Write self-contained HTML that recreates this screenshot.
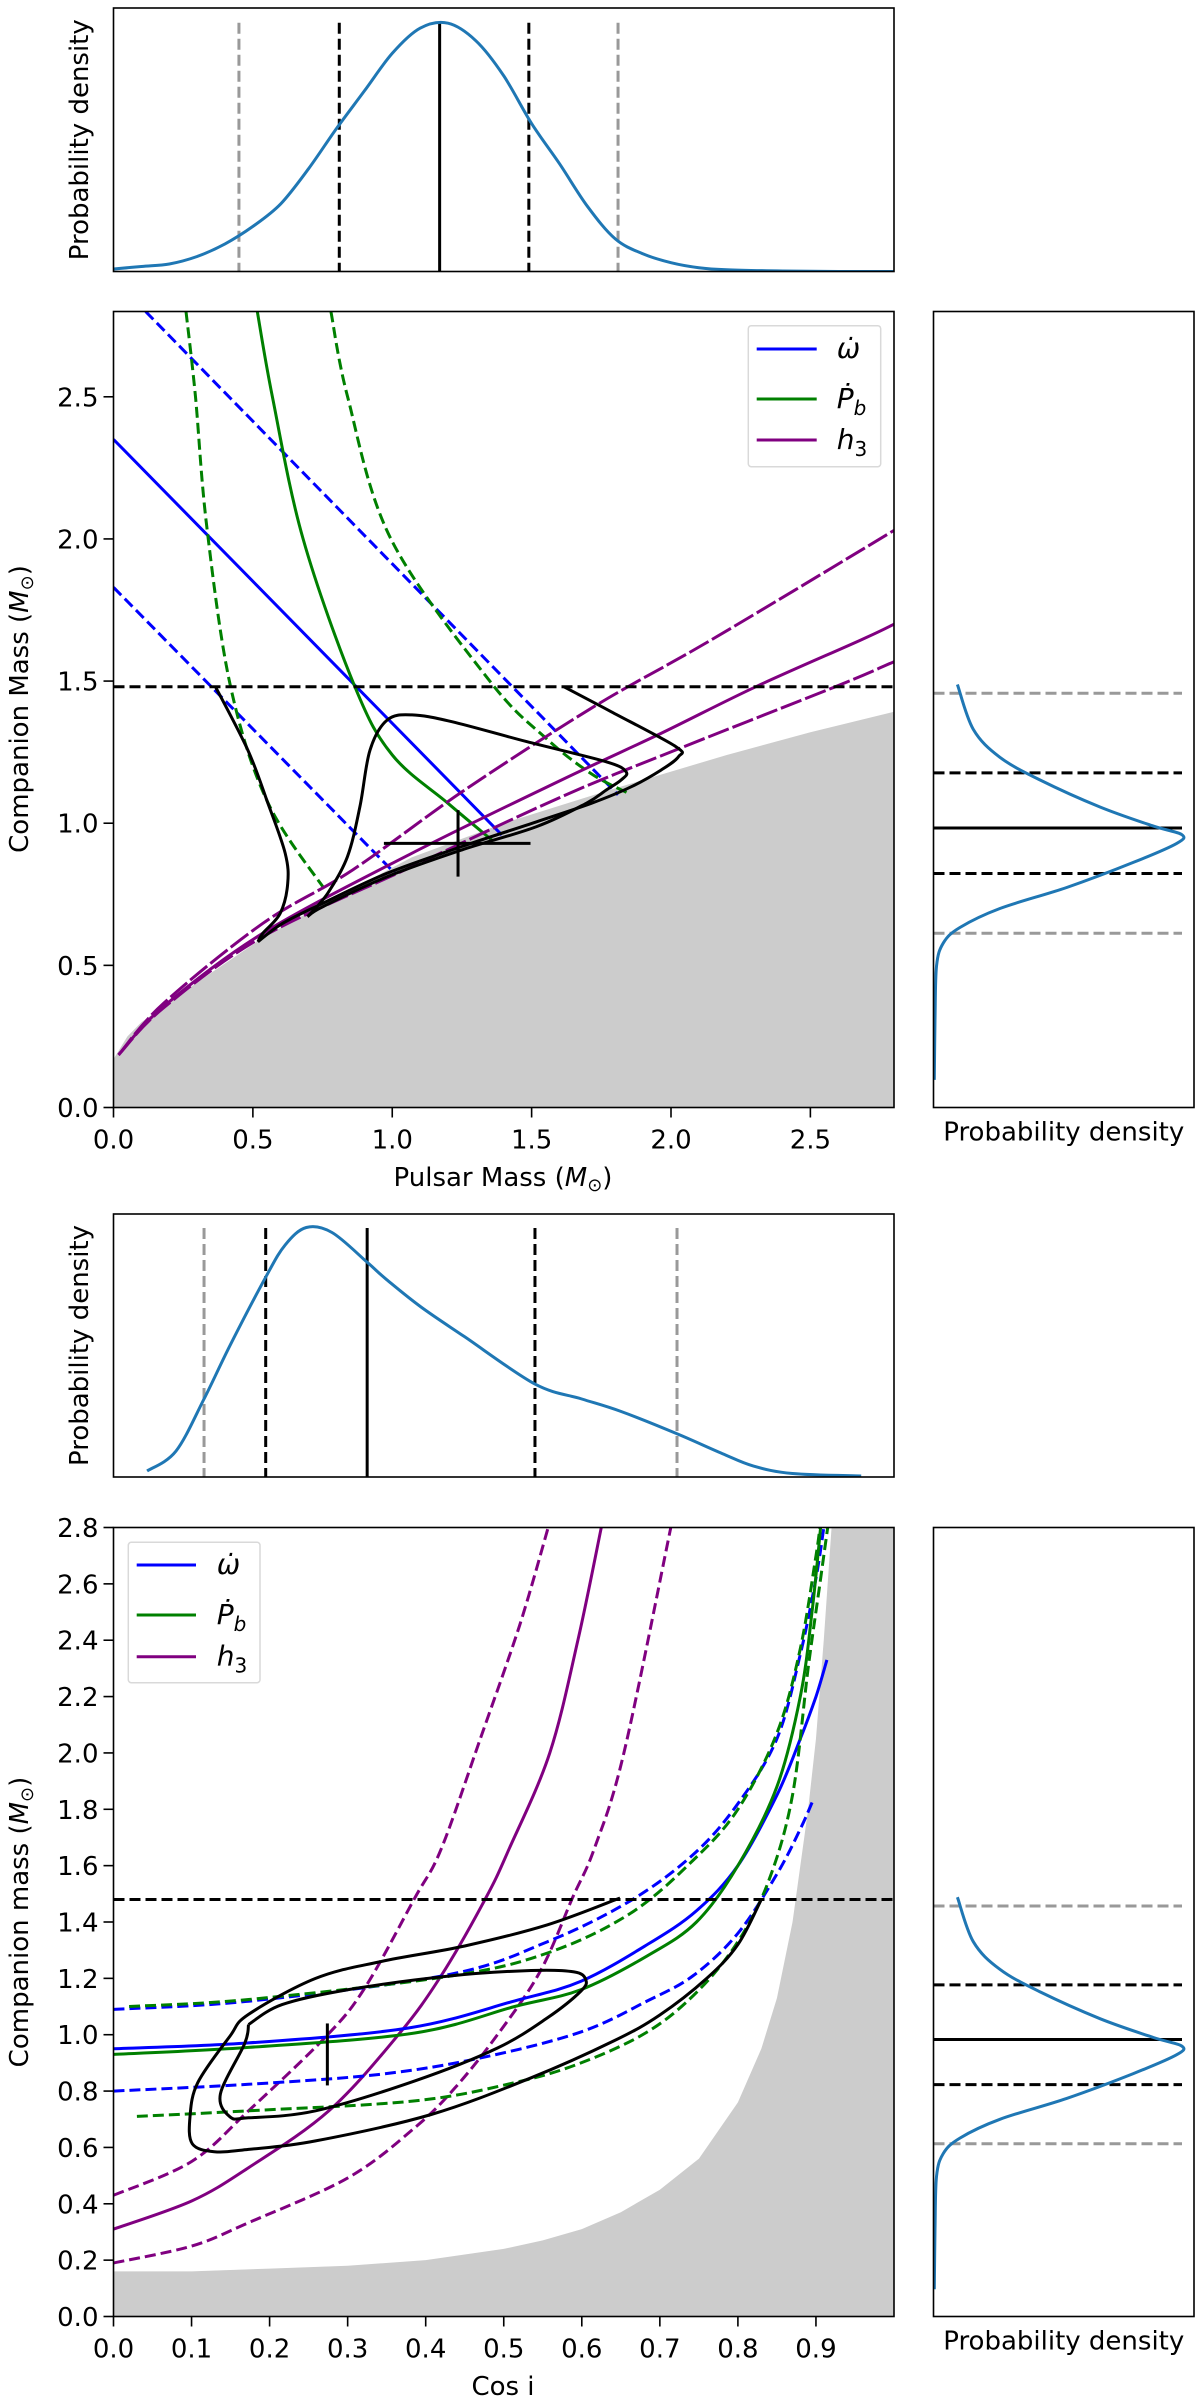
<!DOCTYPE html>
<html><head><meta charset="utf-8"><style>
html,body{margin:0;padding:0;background:#fff;}
svg{display:block;font-family:"DejaVu Sans","Liberation Sans",sans-serif;}
</style></head><body>
<svg id="fig" width="1200" height="2403" viewBox="0 0 1200 2403" xmlns="http://www.w3.org/2000/svg"></svg>
<script>
// ---------------- data ----------------
const mpDensX = [0,0.1,0.2,0.3,0.4,0.5,0.6,0.7,0.8,0.9,1.0,1.1,1.2,1.3,1.4,1.5,1.6,1.7,1.8,1.9,2.0,2.1,2.2,2.4,2.6,2.8];
const mpDensY = [0.01,0.02,0.03,0.06,0.11,0.18,0.27,0.41,0.57,0.72,0.87,0.97,0.99,0.92,0.78,0.59,0.43,0.26,0.13,0.07,0.035,0.015,0.007,0.002,0.0,0.0];
const mpQuant = [0.45,0.81,1.17,1.49,1.81];
const mcDens = [0.093,0.157,0.264,0.426,0.667,0.882,0.996,0.976,0.801,0.533,0.264,0.103,0.036,0.009,0.003,0];
const mcVals = [1.488,1.33,1.232,1.152,1.057,0.99,0.96,0.929,0.862,0.774,0.7,0.633,0.578,0.497,0.309,0.097];
const mcQuant = [1.457,1.177,0.983,0.823,0.613];
const ciDensX = [0.043,0.08,0.116,0.15,0.195,0.22,0.247,0.28,0.325,0.35,0.394,0.45,0.54,0.6,0.65,0.722,0.78,0.82,0.87,0.958];
const ciDensY = [0.02,0.1,0.31,0.53,0.8,0.93,1.0,0.98,0.86,0.79,0.68,0.56,0.37,0.31,0.26,0.17,0.09,0.04,0.01,0.0];
const ciQuant = [0.116,0.195,0.325,0.54,0.722];
const p1GreyX = [0,0.05,0.1,0.18,0.3,0.54,0.8,1.07,1.4,1.79,2.2,2.5,2.8];
const p1GreyY = [0.17,0.25,0.3,0.355,0.44,0.6,0.74,0.88,1.0,1.12,1.24,1.32,1.392];
const omdotX = [0,1.393], omdotY = [2.35,0.959];
const omdotHiX = [0.115,1.81], omdotHiY = [2.8,1.1];
const omdotLoX = [0,1.009], omdotLoY = [1.83,0.824];
const pbX = [0.516,0.57,0.68,0.866,1.0,1.2,1.357], pbY = [2.8,2.5,2.0,1.48,1.24,1.07,0.941];
const pbLoX = [0.26,0.294,0.335,0.42,0.555,0.768], pbLoY = [2.8,2.5,2.04,1.48,1.07,0.753];
const pbHiX = [0.78,0.84,0.995,1.35,1.55,1.714,1.848], pbHiY = [2.8,2.5,2.0,1.5,1.3,1.174,1.105];
const h3HiX = [0.018,0.179,0.536,0.857,1.25,1.723,2.143,2.8], h3HiY = [0.185,0.366,0.648,0.835,1.11,1.41,1.644,2.03];
const h3X = [0.018,0.179,0.536,1.07,1.607,1.964,2.304,2.68,2.8], h3Y = [0.185,0.355,0.613,0.894,1.152,1.316,1.48,1.644,1.70];
const h3LoX = [0.018,0.179,0.536,1.07,1.607,2.018,2.589,2.8], h3LoY = [0.185,0.35,0.601,0.847,1.093,1.258,1.48,1.568];
const c1aX = [0.366,0.482,0.554,0.616,0.625,0.598,0.536,0.518], c1aY = [1.48,1.257,1.07,0.894,0.788,0.683,0.613,0.583];
const c1bX = [0.696,0.768,0.839,0.884,0.92,0.982,1.071,1.214,1.482,1.768,1.839,1.821,1.768,1.696,1.518,1.25,0.982,0.75,0.696];
const c1bY = [0.671,0.753,0.882,1.058,1.257,1.363,1.381,1.357,1.287,1.216,1.181,1.152,1.117,1.07,0.988,0.906,0.812,0.706,0.671];
const c1cX = [1.616,1.786,2.018,2.027,1.964,1.857,1.714,1.518,1.25,0.982,0.75,0.607,0.518];
const c1cY = [1.48,1.392,1.269,1.234,1.187,1.128,1.07,1.005,0.918,0.824,0.718,0.648,0.583];
const cross1 = [1.236,0.929,0.97,1.496,0.812,1.046];
const mcLimit = 1.48;
const p2GreyX = [0,0.1,0.2,0.3,0.4,0.5,0.55,0.6,0.65,0.7,0.75,0.8,0.83,0.85,0.87,0.89,0.9,0.91,0.92,1.0];
const p2GreyY = [0.16,0.16,0.17,0.18,0.2,0.24,0.27,0.31,0.37,0.45,0.56,0.76,0.95,1.13,1.4,1.8,2.05,2.4,2.8,2.8];
const q2OmX = [0,0.173,0.378,0.514,0.599,0.684,0.747,0.8,0.85,0.88,0.9,0.914];
const q2OmY = [0.95,0.971,1.024,1.12,1.19,1.32,1.44,1.6,1.85,2.05,2.2,2.33];
const q2OmHiX = [0,0.173,0.429,0.556,0.662,0.743,0.8,0.85,0.88,0.9,0.91];
const q2OmHiY = [1.09,1.119,1.213,1.33,1.475,1.64,1.82,2.05,2.35,2.62,2.8];
const q2OmLoX = [0,0.173,0.343,0.471,0.599,0.684,0.743,0.8,0.85,0.88,0.896];
const q2OmLoY = [0.8,0.824,0.86,0.918,1.01,1.12,1.21,1.36,1.57,1.73,1.83];
const q2PbX = [0,0.173,0.386,0.514,0.599,0.684,0.747,0.8,0.85,0.88,0.895,0.906];
const q2PbY = [0.93,0.955,1.006,1.1,1.16,1.28,1.40,1.6,1.88,2.2,2.5,2.8];
const q2PbHiX = [0.02,0.173,0.429,0.556,0.662,0.743,0.8,0.85,0.88,0.9,0.905];
const q2PbHiY = [1.1,1.125,1.207,1.29,1.43,1.62,1.8,2.07,2.37,2.7,2.8];
const q2PbLoX = [0.03,0.173,0.386,0.514,0.599,0.684,0.747,0.8,0.84,0.87,0.89,0.905,0.915];
const q2PbLoY = [0.71,0.73,0.765,0.83,0.9,1.01,1.15,1.33,1.55,1.85,2.3,2.6,2.8];
const q2H3X = [0,0.1,0.173,0.276,0.365,0.42,0.477,0.507,0.559,0.595,0.625];
const q2H3Y = [0.31,0.41,0.528,0.73,1.0,1.21,1.485,1.66,2.0,2.4,2.8];
const q2H3HiX = [0,0.1,0.173,0.271,0.322,0.386,0.42,0.47,0.52,0.557];
const q2H3HiY = [0.43,0.55,0.73,0.99,1.166,1.485,1.66,2.05,2.45,2.8];
const q2H3LoX = [0,0.1,0.173,0.301,0.386,0.437,0.492,0.547,0.588,0.616,0.654,0.714];
const q2H3LoY = [0.19,0.25,0.333,0.493,0.67,0.81,1.0,1.226,1.485,1.66,2.0,2.8];
const c2oX = [0.649,0.556,0.45,0.343,0.259,0.173,0.149,0.108,0.098,0.101,0.129,0.173,0.259,0.407,0.535,0.641,0.7,0.76,0.8,0.83];
const c2oY = [1.485,1.39,1.315,1.26,1.2,1.072,0.994,0.83,0.709,0.613,0.585,0.593,0.623,0.717,0.847,0.978,1.07,1.2,1.32,1.48];
const c2iX = [0.173,0.216,0.301,0.429,0.535,0.59,0.605,0.599,0.556,0.492,0.386,0.259,0.173,0.149,0.137,0.168,0.173];
const c2iY = [1.036,1.107,1.16,1.208,1.228,1.223,1.196,1.155,1.06,0.953,0.836,0.73,0.705,0.709,0.79,0.968,1.036];
const err2 = [0.274,0.82,1.04];
const ticks1 = ["0.0","0.5","1.0","1.5","2.0","2.5"];
const ticks2x = ["0.0","0.1","0.2","0.3","0.4","0.5","0.6","0.7","0.8","0.9"];
const ticks2y = ["0.0","0.2","0.4","0.6","0.8","1.0","1.2","1.4","1.6","1.8","2.0","2.2","2.4","2.6","2.8"];

// ---------------- drawing ----------------
const NS = "http://www.w3.org/2000/svg";
const svg = document.getElementById('fig');
function mk(tag, attrs, parent){
  const e = document.createElementNS(NS, tag);
  for (const k in attrs) e.setAttribute(k, attrs[k]);
  (parent||svg).appendChild(e);
  return e;
}
function lin(d0,d1,p0,p1){ return v => p0 + (v-d0)/(d1-d0)*(p1-p0); }
const BLUE="#0000ff", GREEN="#008000", PURPLE="#800080", C0="#1f77b4", GREY="#999999";
const DASH="11,5";

const A1 = {x0:113.5,x1:894,y0:311.5,y1:1107.5};
const A2 = {x0:113.5,x1:894,y0:1527.5,y1:2316.5};
const T1 = {y0:8,y1:271.5}, T2 = {y0:1214,y1:1477};
const R = {x0:933.5,x1:1194};
const sx1 = lin(0,2.8,A1.x0,A1.x1), sy1 = lin(0,2.8,A1.y1,A1.y0);
const sx2 = lin(0,1.0,A2.x0,A2.x1), sy2 = lin(0,2.8,A2.y1,A2.y0);
const tpy1 = lin(0,1,T1.y1,20.7), tpy2 = lin(0,1,1476,1227.5);
const rdx = lin(0,1,934.3,1182.7);

function smoothPath(p){
  if(p.length<3) return 'M'+p.map(q=>q[0].toFixed(1)+','+q[1].toFixed(1)).join(' L');
  let d='M'+p[0][0].toFixed(1)+','+p[0][1].toFixed(1);
  for(let i=0;i<p.length-1;i++){
    const p0=p[Math.max(0,i-1)], p1=p[i], p2=p[i+1], p3=p[Math.min(p.length-1,i+2)];
    const c1=[p1[0]+(p2[0]-p0[0])/6, p1[1]+(p2[1]-p0[1])/6];
    const c2=[p2[0]-(p3[0]-p1[0])/6, p2[1]-(p3[1]-p1[1])/6];
    d+=' C'+c1[0].toFixed(1)+','+c1[1].toFixed(1)+' '+c2[0].toFixed(1)+','+c2[1].toFixed(1)+' '+p2[0].toFixed(1)+','+p2[1].toFixed(1);
  }
  return d;
}
function poly(xs,ys,fx,fy,stroke,dash,name,w){
  const pts = xs.map((x,i)=>[fx(x),fy(ys[i])]);
  const e = mk('path',{d:smoothPath(pts),fill:'none',stroke:stroke,'stroke-width':w||3,'stroke-linejoin':'round'});
  if(dash) e.setAttribute('stroke-dasharray',dash);
  
  
  return e;
}
function clip(id,a){
  const cp = mk('clipPath',{id:id});
  mk('rect',{x:a.x0,y:a.y0,width:a.x1-a.x0,height:a.y1-a.y0},cp);
  return mk('g',{'clip-path':'url(#'+id+')'});
}
function frame(a,name){
  const r = mk('rect',{x:a.x0,y:a.y0,width:a.x1-a.x0,height:a.y1-a.y0,fill:'none',stroke:'#000','stroke-width':1.6});
  
  
}
function text(x,y,str,opts,name){
  const t = mk('text',Object.assign({x:x,y:y,'font-size':26,fill:'#000'},opts||{}));
  t.textContent = str;
  
  
  return t;
}
function vline(g,x,y0,y1,stroke,dash,name){
  const l = mk('line',{x1:x,x2:x,y1:y0,y2:y1,stroke:stroke,'stroke-width':3},g);
  if(dash) l.setAttribute('stroke-dasharray',dash);
  
  
}
function hline(g,y,x0,x1,stroke,dash,name){
  const l = mk('line',{x1:x0,x2:x1,y1:y,y2:y,stroke:stroke,'stroke-width':3},g);
  if(dash) l.setAttribute('stroke-dasharray',dash);
  
  
}
function massLabel(x,y,pre,name,rot){
  const t = mk('text',{x:x,y:y,'font-size':26,'text-anchor':'middle',fill:'#000'});
  if(rot) t.setAttribute('transform','rotate(-90 '+x+' '+y+')');
  
  
  const a = mk('tspan',{},t); a.textContent = pre+' (';
  const m = mk('tspan',{'font-style':'italic'},t); m.textContent='M';
  const s = mk('tspan',{'font-size':18,dy:5},t); s.textContent='\u2299';
  const c = mk('tspan',{dy:-5},t); c.textContent=')';
}
function legend(bx,by,bw,bh,lx0,lx1,tx,ys,name){
  const g = mk('g',{});
  
  
  mk('rect',{x:bx,y:by,width:bw,height:bh,rx:3,fill:'#fff','fill-opacity':0.8,stroke:'#d9d9d9','stroke-width':1.5},g);
  const cols=[BLUE,GREEN,PURPLE];
  const names=['legend-omega-dot','legend-pb-dot','legend-h3'];
  ys.forEach((y,i)=>{
    const l = mk('line',{x1:lx0,x2:lx1,y1:y,y2:y,stroke:cols[i],'stroke-width':3},g);
    
    
    const t = mk('text',{x:tx,y:y+9,'font-size':28,'font-style':'italic',fill:'#000'},g);
    
    
    if(i===0){ t.textContent='\u03C9\u0307'; }
    else if(i===1){ const a=mk('tspan',{},t); a.textContent='P\u0307'; const b=mk('tspan',{'font-size':20,dy:7},t); b.textContent='b'; }
    else { const a=mk('tspan',{},t); a.textContent='h'; const b=mk('tspan',{'font-size':20,'font-style':'normal',dy:7},t); b.textContent='3'; }
  });
}

// ===== top marginal 1 =====
{
  const a = {x0:A1.x0,x1:A1.x1,y0:T1.y0,y1:T1.y1};
  const g = clip('ct1',a);
  const cols=[GREY,'#000','#000','#000',GREY], ds=[DASH,DASH,null,DASH,DASH];
  mpQuant.forEach((q,i)=>vline(g,sx1(q),tpy1(1.0)+2,a.y1,cols[i],ds[i],'pulsar-mass-quantile-'+i));
  g.appendChild(poly(mpDensX,mpDensY,sx1,tpy1,C0,null,'pulsar-mass-density-curve'));
  frame(a,'pulsar-mass-marginal-frame');
  text(88,(a.y0+a.y1)/2,'Probability density',{'text-anchor':'middle',transform:'rotate(-90 88 '+((a.y0+a.y1)/2)+')'},'top-marginal-1-ylabel');
}
// ===== main panel 1 =====
{
  const g = clip('cm1',A1);
  const gp = [[A1.x0,A1.y1]].concat(p1GreyX.map((x,i)=>[sx1(x),sy1(p1GreyY[i])])).concat([[A1.x1,A1.y1]]);
  const gr = mk('polygon',{points:gp.map(p=>p.join(',')).join(' '),fill:'#cccccc'},g);
  
  
  g.appendChild(poly(omdotHiX,omdotHiY,sx1,sy1,BLUE,DASH,'omega-dot-upper'));
  g.appendChild(poly(omdotLoX,omdotLoY,sx1,sy1,BLUE,DASH,'omega-dot-lower'));
  g.appendChild(poly(omdotX,omdotY,sx1,sy1,BLUE,null,'omega-dot-line'));
  g.appendChild(poly(pbLoX,pbLoY,sx1,sy1,GREEN,DASH,'pb-dot-lower'));
  g.appendChild(poly(pbHiX,pbHiY,sx1,sy1,GREEN,DASH,'pb-dot-upper'));
  g.appendChild(poly(pbX,pbY,sx1,sy1,GREEN,null,'pb-dot-line'));
  g.appendChild(poly(h3HiX,h3HiY,sx1,sy1,PURPLE,'22,4','h3-upper'));
  g.appendChild(poly(h3X,h3Y,sx1,sy1,PURPLE,null,'h3-line'));
  g.appendChild(poly(h3LoX,h3LoY,sx1,sy1,PURPLE,'22,4','h3-lower'));
  hline(g,sy1(mcLimit),A1.x0,A1.x1,'#000',DASH,'max-mass-limit');
  g.appendChild(poly(c1aX,c1aY,sx1,sy1,'#000',null,'contour-left'));
  g.appendChild(poly(c1bX,c1bY,sx1,sy1,'#000',null,'contour-inner'));
  g.appendChild(poly(c1cX,c1cY,sx1,sy1,'#000',null,'contour-outer'));
  hline(g,sy1(cross1[1]),sx1(cross1[2]),sx1(cross1[3]),'#000',null,'estimate-xerr');
  vline(g,sx1(cross1[0]),sy1(cross1[4]),sy1(cross1[5]),'#000',null,'estimate-yerr');
  frame(A1,'main-panel-1-frame');
  ticks1.forEach((t)=>{
    const v=parseFloat(t);
    mk('line',{x1:sx1(v),x2:sx1(v),y1:A1.y1,y2:A1.y1+10,stroke:'#000','stroke-width':1.6});
    text(sx1(v),A1.y1+41,t,{'text-anchor':'middle'},'x-tick-'+t);
    mk('line',{x1:A1.x0-10,x2:A1.x0,y1:sy1(v),y2:sy1(v),stroke:'#000','stroke-width':1.6});
    text(A1.x0-15,sy1(v)+9.5,t,{'text-anchor':'end'},'y-tick-'+t);
  });
  massLabel(503,1186,'Pulsar Mass','x-axis-title-1',false);
  massLabel(28,709,'Companion Mass','y-axis-title-1',true);
  legend(748.3,325.7,132.4,141,756.7,816.7,836.7,[349,399,440],'legend-1');
}
// ===== right marginals =====
function rightMarg(A,sy,id){
  const a={x0:R.x0,x1:R.x1,y0:A.y0,y1:A.y1};
  const g=clip(id,a);
  const cols=[GREY,'#000','#000','#000',GREY], ds=[DASH,DASH,null,DASH,DASH];
  mcQuant.forEach((q,i)=>hline(g,sy(q),R.x0,1182,cols[i],ds[i],id+'-quantile-'+i));
  g.appendChild(poly(mcDens,mcVals,rdx,sy,C0,null,id+'-density-curve'));
  frame(a,id+'-frame');
  text((R.x0+R.x1)/2,a.y1+33,'Probability density',{'text-anchor':'middle'},id+'-xlabel');
}
rightMarg(A1,sy1,'companion-marginal-1');
rightMarg(A2,sy2,'companion-marginal-2');
// ===== top marginal 2 =====
{
  const a = {x0:A2.x0,x1:A2.x1,y0:T2.y0,y1:T2.y1};
  const g = clip('ct2',a);
  const cols=[GREY,'#000','#000','#000',GREY], ds=[DASH,DASH,null,DASH,DASH];
  ciQuant.forEach((q,i)=>vline(g,sx2(q),1228,a.y1,cols[i],ds[i],'cosi-quantile-'+i));
  g.appendChild(poly(ciDensX,ciDensY,sx2,tpy2,C0,null,'cosi-density-curve'));
  frame(a,'cosi-marginal-frame');
  text(88,(a.y0+a.y1)/2,'Probability density',{'text-anchor':'middle',transform:'rotate(-90 88 '+((a.y0+a.y1)/2)+')'},'top-marginal-2-ylabel');
}
// ===== main panel 2 =====
{
  const g = clip('cm2',A2);
  const gp = [[A2.x0,A2.y1]].concat(p2GreyX.map((x,i)=>[sx2(x),sy2(p2GreyY[i])])).concat([[A2.x1,A2.y1]]);
  const gr = mk('polygon',{points:gp.map(p=>p.join(',')).join(' '),fill:'#cccccc'},g);
  
  
  g.appendChild(poly(q2H3HiX,q2H3HiY,sx2,sy2,PURPLE,DASH,'h3-upper-2'));
  g.appendChild(poly(q2H3LoX,q2H3LoY,sx2,sy2,PURPLE,DASH,'h3-lower-2'));
  g.appendChild(poly(q2H3X,q2H3Y,sx2,sy2,PURPLE,null,'h3-line-2'));
  g.appendChild(poly(q2OmHiX,q2OmHiY,sx2,sy2,BLUE,DASH,'omega-dot-upper-2'));
  g.appendChild(poly(q2OmLoX,q2OmLoY,sx2,sy2,BLUE,DASH,'omega-dot-lower-2'));
  g.appendChild(poly(q2OmX,q2OmY,sx2,sy2,BLUE,null,'omega-dot-line-2'));
  g.appendChild(poly(q2PbHiX,q2PbHiY,sx2,sy2,GREEN,DASH,'pb-dot-upper-2'));
  g.appendChild(poly(q2PbLoX,q2PbLoY,sx2,sy2,GREEN,DASH,'pb-dot-lower-2'));
  g.appendChild(poly(q2PbX,q2PbY,sx2,sy2,GREEN,null,'pb-dot-line-2'));
  hline(g,sy2(mcLimit),A2.x0,A2.x1,'#000',DASH,'max-mass-limit-2');
  g.appendChild(poly(c2oX,c2oY,sx2,sy2,'#000',null,'contour-outer-2'));
  g.appendChild(poly(c2iX,c2iY,sx2,sy2,'#000',null,'contour-inner-2'));
  vline(g,sx2(err2[0]),sy2(err2[1]),sy2(err2[2]),'#000',null,'estimate-yerr-2');
  frame(A2,'main-panel-2-frame');
  ticks2x.forEach((t)=>{
    const v=parseFloat(t);
    mk('line',{x1:sx2(v),x2:sx2(v),y1:A2.y1,y2:A2.y1+10,stroke:'#000','stroke-width':1.6});
    text(sx2(v),A2.y1+41,t,{'text-anchor':'middle'},'x-tick-2-'+t);
  });
  ticks2y.forEach((t)=>{
    const v=parseFloat(t);
    mk('line',{x1:A2.x0-10,x2:A2.x0,y1:sy2(v),y2:sy2(v),stroke:'#000','stroke-width':1.6});
    text(A2.x0-15,sy2(v)+9.5,t,{'text-anchor':'end'},'y-tick-2-'+t);
  });
  text(503,2395,'Cos i',{'text-anchor':'middle'},'x-axis-title-2');
  massLabel(28,1922,'Companion mass','y-axis-title-2',true);
  legend(128.3,1542.3,131.7,140.4,136.7,196,216.7,[1565,1615,1656.7],'legend-2');
}
</script>
</body></html>
